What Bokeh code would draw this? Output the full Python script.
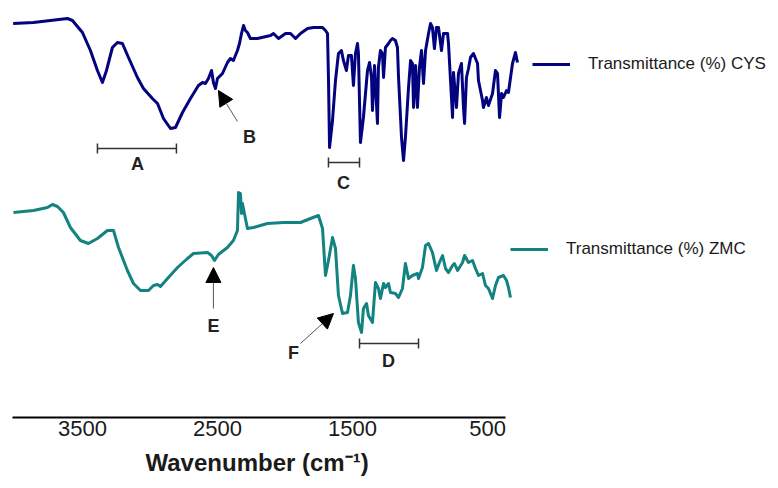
from bokeh.plotting import figure
from bokeh.models import Range1d, FixedTicker, Legend, LegendItem, Arrow, NormalHead, Title
from bokeh.embed import file_html
from bokeh.resources import INLINE
from bokeh.core.properties import value

# ---------------- data ----------------
cys_wn = [4013, 3863, 3737, 3611, 3574, 3500, 3441, 3389, 3352, 3322,
          3278, 3241, 3204, 3159, 3093, 3048, 2982, 2944, 2900, 2848,
          2811, 2759, 2700, 2641, 2611, 2589, 2567, 2544, 2530, 2515,
          2500, 2463, 2426, 2404, 2382, 2352, 2337, 2322, 2307, 2293,
          2278, 2256, 2204, 2107, 2085, 2048, 1996, 1959, 1922, 1885,
          1833, 1789, 1722, 1700, 1685, 1678, 1670, 1648, 1626, 1604,
          1582, 1567, 1545, 1530, 1508, 1493, 1478, 1463, 1456, 1441,
          1419, 1389, 1374, 1359, 1352, 1337, 1315, 1308, 1293, 1278,
          1270, 1256, 1233, 1219, 1204, 1182, 1167, 1159, 1137, 1122,
          1108, 1085, 1070, 1056, 1048, 1033, 1019, 1004, 989, 974,
          959, 937, 922, 908, 893, 878, 863, 841, 826, 796,
          789, 774, 759, 752, 730, 715, 693, 678, 670, 656,
          641, 626, 604, 574, 567, 537, 530, 508, 493, 463,
          441, 426, 411, 396, 382, 359, 345, 315, 293, 278]
cys_t = [394, 395, 397, 399, 397, 385, 367, 347, 335, 347,
         370, 375, 374, 360, 340, 329, 319, 314, 299, 289,
         290, 305, 319, 332, 335, 334, 339, 347, 335, 329,
         339, 344, 355, 359, 357, 367, 374, 384, 392, 387,
         385, 379, 379, 382, 384, 379, 384, 384, 379, 384,
         389, 390, 390, 387, 384, 340, 270, 297, 337, 364,
         367, 357, 347, 362, 362, 332, 364, 374, 364, 275,
         300, 347, 355, 340, 307, 352, 294, 350, 367, 364,
         340, 370, 374, 377, 379, 377, 370, 340, 280, 257,
         280, 330, 357, 354, 310, 352, 310, 350, 367, 334,
         367, 384, 394, 390, 369, 390, 390, 367, 384, 384,
         374, 337, 300, 345, 310, 344, 354, 310, 294, 340,
         349, 360, 364, 354, 337, 317, 310, 320, 312, 324,
         347, 344, 300, 324, 320, 327, 325, 354, 365, 355]

zmc_wn = [4011, 3863, 3759, 3722, 3685, 3641, 3589, 3515, 3456, 3389,
          3315, 3270, 3233, 3167, 3122, 3070, 3011, 2974, 2944, 2922,
          2870, 2796, 2722, 2678, 2574, 2544, 2522, 2493, 2426, 2382,
          2352, 2344, 2330, 2322, 2315, 2278, 2233, 2130, 2011, 1885,
          1811, 1752, 1722, 1700, 1678, 1648, 1626, 1604, 1574, 1537,
          1515, 1493, 1478, 1456, 1433, 1419, 1396, 1382, 1352, 1330,
          1308, 1293, 1270, 1256, 1233, 1219, 1182, 1159, 1130, 1108,
          1085, 1056, 1019, 1011, 982, 959, 937, 908, 878, 856,
          833, 811, 789, 759, 745, 722, 685, 670, 641, 611,
          589, 567, 537, 515, 493, 463, 441, 419, 382, 359,
          345, 330]
zmc_t = [205, 207, 210, 213, 211, 205, 190, 177, 174, 179,
         187, 187, 170, 147, 134, 127, 127, 132, 133, 131,
         139, 150, 159, 164, 165, 162, 157, 163, 170, 177,
         187, 225, 224, 204, 214, 189, 190, 194, 195, 195,
         199, 202, 189, 142, 157, 180, 169, 122, 104, 105,
         122, 152, 139, 95, 85, 109, 114, 102, 95, 135,
         129, 119, 134, 130, 134, 125, 124, 120, 129, 154,
         139, 142, 144, 139, 150, 172, 174, 165, 147, 155,
         162, 149, 145, 152, 154, 147, 155, 162, 155, 157,
         149, 142, 144, 132, 129, 119, 132, 140, 142, 137,
         130, 120]

tick_values = [3500, 2500, 1500, 500]
series_names = ["Transmittance (%) CYS", "Transmittance (%) ZMC"]
x_title = "Wavenumber (cm\u207b\u00b9)"

# band annotations
band_labels = ["A", "C", "D"]
band_from = [3389, 1678, 1448]
band_to = [2804, 1448, 1011]

CYS_COLOR = "#03037f"
ZMC_COLOR = "#128380"
FONT = "Liberation Sans"

p = figure(width=778, height=488, output_backend="svg", toolbar_location=None,
           x_range=Range1d(4018, -1655), y_range=Range1d(0, 417),
           y_axis_location=None, min_border_left=12, min_border_right=0,
           min_border_top=0, min_border_bottom=71)
p.outline_line_color = None
p.grid.visible = False
p.background_fill_color = "white"
p.border_fill_color = "white"

r1 = p.line(cys_wn, cys_t, line_color=CYS_COLOR, line_width=3, line_join="round")
r2 = p.line(zmc_wn, zmc_t, line_color=ZMC_COLOR, line_width=3, line_join="round")

ax = p.xaxis[0]
ax.ticker = FixedTicker(ticks=tick_values)
ax.bounds = (367, 4018)
ax.axis_line_width = 2
ax.axis_line_color = "black"
ax.major_tick_line_color = None
ax.minor_tick_line_color = None
ax.major_label_standoff = -3
ax.major_label_text_font = FONT
ax.major_label_text_font_size = "22px"
ax.major_label_text_color = "#1a1a1a"

# axis title, left-aligned under the axis line span
p.add_layout(Title(text=x_title, align="left", offset=133, standoff=16,
                   text_font=FONT, text_font_size="24px", text_font_style="bold",
                   text_color="#1a1a1a"), "below")

# legends
for r, name, loc in [(r1, series_names[0], (520, 343)), (r2, series_names[1], (498, 158))]:
    lg = Legend(items=[LegendItem(label=name, renderers=[r])], location=loc,
                border_line_color=None, background_fill_alpha=0, padding=0, margin=0,
                glyph_width=38, glyph_height=20, label_standoff=18, label_height=20,
                spacing=0, label_text_font=FONT, label_text_font_size="17px",
                label_text_color="#1a1a1a")
    p.add_layout(lg)

# brackets
levels = [269, 255, 74]
tick_half = 5
p.segment(x0=band_from, y0=levels, x1=band_to, y1=levels, line_color="#333333", line_width=1.5)
p.segment(x0=band_from, y0=[l - tick_half for l in levels], x1=band_from,
          y1=[l + tick_half for l in levels], line_color="#333333", line_width=1.5)
p.segment(x0=band_to, y0=[l - tick_half for l in levels], x1=band_to,
          y1=[l + tick_half for l in levels], line_color="#333333", line_width=1.5)

# letters
p.text(x=[3093, 2263, 1567, 1233, 2530, 1937], y=[254, 281, 235, 57, 92, 65],
       text=["A", "B", "C", "D", "E", "F"], text_font=value(FONT), text_font_style="bold",
       text_font_size="18px", text_align="center", text_baseline="middle", text_color="#222222")

# arrows (B, E, F)
for xs, ys, xe, ye in [(2352, 296, 2493, 327), (2530, 109, 2530, 150), (1885, 74, 1641, 104)]:
    p.add_layout(Arrow(end=NormalHead(size=15, fill_color="black", line_color="black"),
                       x_start=xs, y_start=ys, x_end=xe, y_end=ye,
                       line_color="#555555", line_width=1))

open("out.html", "w").write(file_html(p, INLINE))
